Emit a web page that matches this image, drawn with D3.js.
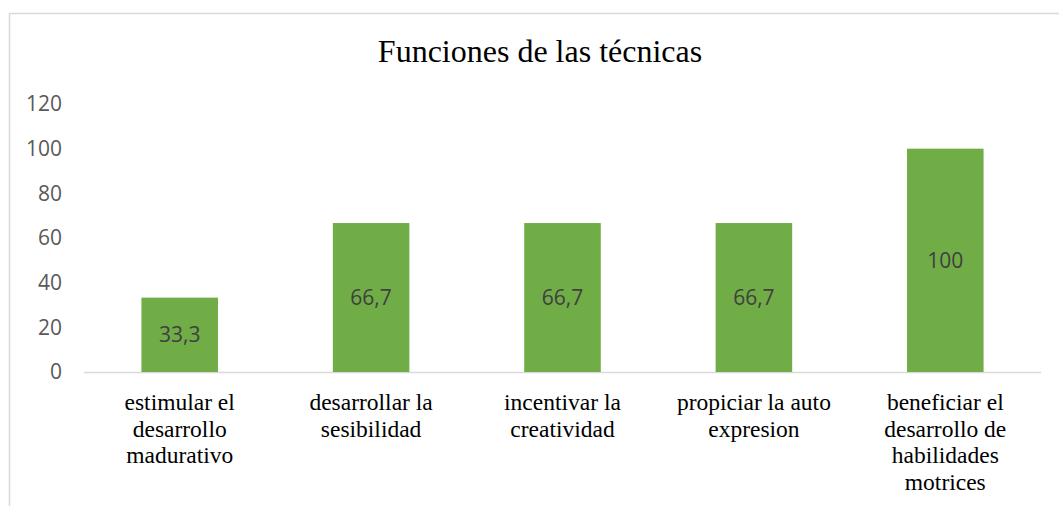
<!DOCTYPE html>
<html><head><meta charset="utf-8">
<script src="https://cdn.jsdelivr.net/npm/d3@7"></script>
<style>body{margin:0;background:#fff}svg{display:block}</style>
</head><body>
<svg id="c" width="1059" height="506"></svg>
<script>
const categories = [
  ["estimular el","desarrollo","madurativo"],
  ["desarrollar la","sesibilidad"],
  ["incentivar la","creatividad"],
  ["propiciar la auto","expresion"],
  ["beneficiar el","desarrollo de","habilidades","motrices"]
];
const values = [33.3, 66.7, 66.7, 66.7, 100];
const labels = ["33,3","66,7","66,7","66,7","100"];
const yTicks = [0,20,40,60,80,100,120];
const title = "Funciones de las técnicas";

const svg = d3.select("#c");
const m = {left:84, right:1041, top:104, bottom:372};

// chart border
svg.append("path").attr("d",`M9.5,506 V13.5 H1059`).attr("fill","none").attr("stroke","#d9d9d9").attr("stroke-width",1.5);

const x = d3.scaleBand().domain(d3.range(values.length)).range([m.left,m.right]).paddingInner(0.6).paddingOuter(0.3);
const y = d3.scaleLinear().domain([0,120]).range([m.bottom,m.top]);

svg.append("text").attr("x",540).attr("y",62).attr("text-anchor","middle")
  .attr("font-family","Liberation Serif, Times New Roman, serif").attr("font-size",32).attr("fill","#000").text(title);

const ya = svg.append("g").attr("transform",`translate(${m.left},0)`)
  .call(d3.axisLeft(y).tickValues(yTicks).tickSize(0).tickPadding(22));
ya.select(".domain").remove();
ya.selectAll("text").attr("font-family","Open Sans, sans-serif").attr("font-size",21).attr("fill","#595959");

svg.append("line").attr("x1",m.left).attr("x2",m.right).attr("y1",y(0)+0.5).attr("y2",y(0)+0.5)
  .attr("stroke","#d9d9d9").attr("stroke-width",1.5);

svg.selectAll("rect.bar").data(values).join("rect").attr("class","bar")
  .attr("x",(d,i)=>x(i)).attr("width",x.bandwidth())
  .attr("y",d=>y(d)).attr("height",d=>y(0)-y(d)).attr("fill","#70ad47");

svg.selectAll("text.dl").data(values).join("text").attr("class","dl")
  .attr("x",(d,i)=>x(i)+x.bandwidth()/2).attr("y",d=>(y(d)+y(0))/2)
  .attr("dy","0.35em").attr("text-anchor","middle")
  .attr("font-family","Open Sans, sans-serif").attr("font-size",21).attr("fill","#404040")
  .text((d,i)=>labels[i]);

const cl = svg.selectAll("text.cat").data(categories).join("text").attr("class","cat")
  .attr("text-anchor","middle").attr("font-family","Liberation Serif, Times New Roman, serif")
  .attr("font-size",23.5).attr("fill","#000");
cl.each(function(lines,i){
  const t = d3.select(this);
  lines.forEach((ln,j)=>{
    t.append("tspan").attr("x",x(i)+x.bandwidth()/2).attr("y",410+j*26.5).text(ln);
  });
});
</script>
</body></html>
